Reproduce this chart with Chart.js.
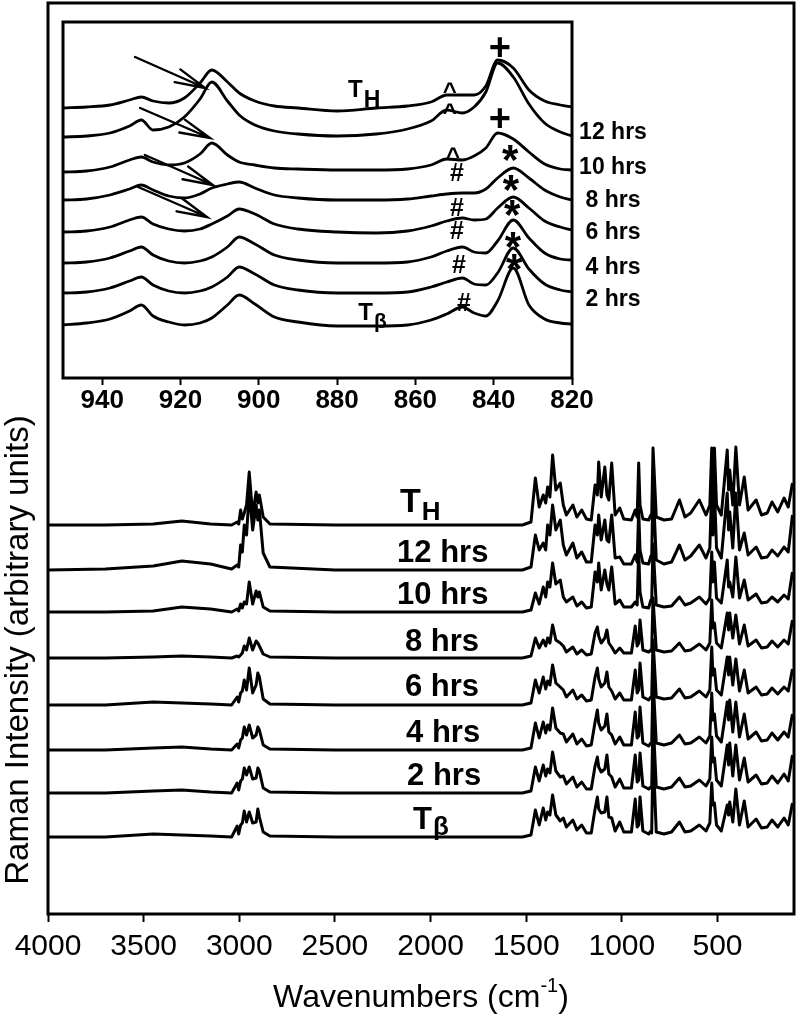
<!DOCTYPE html>
<html>
<head>
<meta charset="utf-8">
<title>Raman spectra</title>
<script src="https://cdn.jsdelivr.net/npm/chart.js@4.4.0/dist/chart.umd.min.js"></script>
<style>
  html, body { margin: 0; padding: 0; background: #fff; }
  #wrap { position: relative; width: 799px; height: 1014px; }
  #mainChart, #insetChart { position: absolute; left: 0; top: 0; }
</style>
</head>
<body>
<div id="wrap">
  <canvas id="mainChart" width="799" height="1014"></canvas>
  <canvas id="insetChart" width="799" height="430"></canvas>
</div>
<script>
// ---- données ----
const traceNames = ["TH", "12 hrs", "10 hrs", "8 hrs", "6 hrs", "4 hrs", "2 hrs", "Tβ"];

// spectre complet (cm-1)
const mainWavenumbers = [
  4000, 3700, 3450, 3300, 3150, 3040, 3011, 3003, 2993, 2984,
  2974, 2962, 2948, 2930, 2912, 2903, 2895, 2875, 2840, 2500,
  2000, 1520, 1475, 1452, 1432, 1411, 1398, 1388, 1376, 1362,
  1345, 1322, 1306, 1290, 1256, 1235, 1210, 1185, 1160, 1140,
  1128, 1121, 1108, 1089, 1078, 1068, 1053, 1035, 1011, 990,
  950, 930, 920, 912, 905, 890, 860, 848, 844, 837,
  820, 780, 740, 699, 670, 640, 595, 560, 540, 530,
  524, 516, 505, 480, 449, 442, 436, 420, 404, 385,
  360, 340, 298, 270, 240, 215, 185, 152, 130, 108
];
const mainTickValues = [4000, 3500, 3000, 2500, 2000, 1500, 1000, 500];
const mainOffsets = [389, 344, 302, 256, 209, 164, 121, 77];

const mainTH = [
  0, 0, 1, 4, 1, 0, 3, 1, 15, 6,
  12, 20, 53, 10, 33, 22, 30, 8, 1, 0,
  0, 0, 3, 47, 18, 30, 22, 38, 28, 70,
  35, 42, 20, 10, 20, 8, 15, 6, 5, 40,
  30, 63, 28, 58, 30, 25, 62, 10, 17, 6,
  5, 15, 8, 62, 20, 6, 5, 10, 8, 77,
  8, 5, 6, 25, 8, 12, 25, 10, 20, 77,
  30, 77, 20, 10, 75, 35, 55, 20, 78, 20,
  48, 15, 25, 10, 12, 23, 13, 27, 18, 42
];
const main12h = [
  0, 1, 4, 9, 6, 1, 5, 3, 25, 18,
  45, 35, 78, 40, 65, 50, 60, 17, 3, 0,
  0, 0, 3, 35, 20, 27, 20, 45, 35, 65,
  40, 50, 25, 15, 27, 12, 18, 8, 8, 45,
  35, 55, 30, 50, 30, 28, 55, 12, 13, 6,
  6, 15, 8, 60, 20, 7, 6, 14, 12, 85,
  10, 6, 8, 25, 10, 14, 25, 12, 22, 83,
  35, 80, 22, 12, 77, 40, 58, 22, 77, 20,
  37, 15, 23, 12, 13, 20, 14, 23, 18, 55
];
const main10h = [
  0, 0, 1, 5, 3, 0, 3, 1, 8, 4,
  10, 8, 30, 8, 21, 15, 20, 5, 1, 0,
  0, 0, 2, 19, 8, 25, 15, 30, 25, 49,
  28, 32, 15, 10, 15, 6, 10, 4, 5, 40,
  30, 49, 22, 42, 28, 22, 45, 8, 12, 5,
  5, 10, 7, 62, 20, 5, 4, 12, 10, 68,
  7, 5, 6, 15, 7, 9, 15, 8, 14, 60,
  30, 50, 14, 9, 52, 25, 30, 15, 55, 14,
  32, 12, 18, 9, 10, 15, 10, 17, 13, 40
];
const main8h = [
  0, 0, 1, 2, 1, 0, 2, 1, 3, 5,
  12, 8, 20, 8, 17, 15, 12, 4, 1, 0,
  0, 0, 2, 20, 10, 18, 12, 20, 15, 33,
  18, 15, 12, 6, 11, 4, 8, 3, 4, 25,
  31, 22, 15, 20, 28, 15, 11, 5, 10, 5,
  5, 32, 12, 15, 38, 8, 6, 8, 7, 60,
  8, 6, 7, 15, 7, 8, 14, 8, 15, 58,
  30, 35, 15, 10, 45, 28, 45, 20, 43, 14,
  33, 12, 18, 10, 11, 17, 11, 18, 14, 38
];
const main6h = [
  0, 0, 3, 2, 1, 0, 8, 3, 12, 14,
  25, 15, 37, 12, 20, 32, 28, 6, 1, 0,
  0, 0, 2, 25, 12, 28, 16, 24, 20, 40,
  22, 18, 15, 8, 15, 6, 10, 4, 5, 28,
  37, 26, 18, 22, 33, 18, 14, 6, 12, 5,
  5, 35, 12, 15, 42, 8, 5, 8, 7, 65,
  8, 6, 7, 16, 7, 8, 14, 8, 15, 58,
  30, 36, 15, 10, 48, 30, 48, 20, 46, 14,
  35, 12, 18, 10, 11, 17, 11, 18, 14, 36
];
const main4h = [
  0, 0, 2, 3, 1, 0, 6, 2, 10, 12,
  23, 15, 25, 12, 15, 23, 20, 5, 1, 0,
  0, 0, 2, 27, 12, 28, 17, 25, 20, 42,
  22, 17, 16, 8, 16, 6, 11, 4, 5, 28,
  40, 27, 20, 24, 36, 18, 15, 6, 13, 5,
  5, 38, 12, 14, 43, 7, 4, 7, 6, 72,
  7, 5, 7, 15, 6, 7, 13, 7, 14, 57,
  30, 36, 14, 8, 48, 30, 50, 18, 48, 13,
  36, 11, 18, 9, 10, 17, 10, 18, 13, 36
];
const main2h = [
  0, 0, 2, 3, 1, 0, 10, 3, 12, 14,
  25, 18, 26, 14, 15, 25, 22, 5, 1, 0,
  0, 0, 2, 26, 12, 28, 17, 24, 20, 41,
  22, 16, 17, 9, 16, 6, 11, 4, 4, 27,
  36, 26, 21, 24, 38, 19, 16, 6, 14, 5,
  5, 38, 11, 13, 40, 7, 4, 6, 5, 75,
  6, 4, 6, 15, 6, 7, 13, 7, 14, 56,
  31, 35, 13, 7, 48, 28, 50, 17, 48, 13,
  35, 11, 18, 9, 10, 17, 10, 19, 12, 38
];
const mainTbeta = [
  0, 0, 3, 2, 1, 0, 11, 3, 12, 14,
  26, 15, 25, 14, 15, 28, 20, 5, 1, 0,
  0, 0, 2, 27, 12, 29, 17, 25, 22, 42,
  22, 16, 19, 10, 17, 7, 12, 4, 4, 28,
  40, 28, 24, 25, 40, 20, 19, 6, 15, 5,
  5, 38, 10, 12, 40, 6, 3, 6, 4, 85,
  5, 3, 5, 15, 5, 6, 12, 6, 14, 54,
  32, 34, 12, 6, 32, 22, 35, 15, 48, 12,
  36, 10, 18, 9, 10, 17, 10, 19, 12, 34
];
const mainSeries = [mainTH, main12h, main10h, main8h, main6h, main4h, main2h, mainTbeta];

// encart 950-820 cm-1
const insetWavenumbers = [
  950, 944, 938, 933, 930, 927, 923, 919, 915, 912,
  908, 905, 901, 896, 890, 880, 870, 862, 856, 852,
  848, 845, 842, 839, 835, 831, 827, 823, 820
];
const insetTickValues = [940, 920, 900, 880, 860, 840, 820];
const insetOffsets = [270, 241, 206, 178, 146, 115, 85, 53];

const insetTH = [0, 1, 3, 8, 11, 7, 5, 10, 25, 38, 26, 15, 7, 2, 0, -3, 0, 2, 6, 13, 13, 13, 22, 48, 40, 18, 7, 3, 1];
const inset12h = [0, 1, 4, 11, 17, 7, 10, 20, 38, 55, 36, 22, 12, 6, 3, 1, 3, 8, 16, 27, 24, 30, 45, 74, 60, 33, 14, 5, 1];
const inset10h = [0, 1, 5, 12, 15, 10, 7, 9, 18, 29, 17, 10, 7, 4, 3, 2, 2, 3, 7, 13, 12, 16, 24, 39, 33, 20, 8, 3, 2];
const inset8h = [0, 1, 5, 11, 15, 10, 4, 2, 6, 12, 16, 18, 12, 5, 2, 0, 0, 1, 4, 6, 7, 7, 11, 22, 32, 22, 10, 3, 0];
const inset6h = [0, 1, 5, 12, 15, 8, 3, 1, 3, 8, 16, 23, 18, 8, 3, 0, -1, 1, 6, 11, 14, 12, 13, 24, 35, 24, 11, 5, 2];
const inset4h = [0, 1, 5, 12, 16, 8, 2, 0, 2, 6, 16, 26, 19, 8, 3, 0, 0, 1, 6, 12, 16, 11, 10, 22, 43, 25, 10, 4, 3];
const inset2h = [0, 1, 5, 12, 16, 8, 2, 0, 2, 6, 16, 26, 19, 8, 3, 0, 0, 1, 6, 11, 15, 9, 8, 20, 45, 24, 9, 3, 1];
const insetTbeta = [0, 2, 6, 14, 20, 9, 3, 0, 2, 7, 20, 30, 21, 8, 3, -1, -1, 0, 5, 11, 18, 12, 9, 24, 57, 20, 6, 2, 1];
const insetSeries = [insetTH, inset12h, inset10h, inset8h, inset6h, inset4h, inset2h, insetTbeta];

// annotations (coordonnées en unités des axes)
const mainLabelAt = [
  { wn: 2160, y: 414 }, { wn: 2175, y: 364 }, { wn: 2175, y: 322 }, { wn: 2134, y: 275 },
  { wn: 2134, y: 230 }, { wn: 2128, y: 184 }, { wn: 2123, y: 141 }, { wn: 2092, y: 96 }
];
const insetHrsLabelY = [248, 213, 180, 148, 113, 81]; // 12 hrs ... 2 hrs
const insetPlus = [{ wn: 838.4, y: 331 }, { wn: 838.4, y: 260 }];
const insetCaret = [{ wn: 851.2, y: 291 }, { wn: 851.2, y: 270 }, { wn: 850.4, y: 226 }];
const insetHash = [{ wn: 849.4, y: 206 }, { wn: 849.4, y: 171 }, { wn: 849.4, y: 148 }, { wn: 848.9, y: 114 }, { wn: 847.6, y: 76 }];
const insetStar = [{ wn: 835.8, y: 225 }, { wn: 835.6, y: 195 }, { wn: 835.3, y: 170 }, { wn: 835.1, y: 138 }, { wn: 834.8, y: 116 }];
const insetArrows = [
  { from: [931.6, 321], to: [913.7, 290] },
  { from: [930.3, 270], to: [912.5, 240] },
  { from: [929.1, 223], to: [911.7, 193] },
  { from: [930.8, 191], to: [913.2, 161] }
];

const FONT = "'Liberation Sans', Arial, sans-serif";

function drawCentered(ctx, str, cx, cy, font, align) {
  ctx.font = font;
  const m = ctx.measureText(str);
  ctx.textAlign = align || "center";
  ctx.textBaseline = "alphabetic";
  ctx.fillText(str, cx, cy + (m.actualBoundingBoxAscent - m.actualBoundingBoxDescent) / 2);
  return m.width;
}

// T avec indice (TH, Tβ)
function drawSubscripted(ctx, main, sub, x, cy, size, subSize, drop) {
  const w = drawCentered(ctx, main, x, cy, "bold " + size + "px " + FONT, "left");
  drawCentered(ctx, sub, x + w + 1, cy + drop, "bold " + subSize + "px " + FONT, "left");
}

function buildData(wavenumbers, values, offset) {
  return wavenumbers.map((wn, i) => ({ x: wn, y: offset + values[i] }));
}

const whiteBg = {
  id: "whiteBg",
  beforeDraw(chart) {
    const ctx = chart.ctx;
    ctx.save();
    ctx.fillStyle = "#fff";
    ctx.fillRect(0, 0, chart.width, chart.height);
    ctx.restore();
  }
};

const mainDecor = {
  id: "mainDecor",
  afterDraw(chart) {
    const { ctx, chartArea: a, scales } = chart;
    ctx.save();
    ctx.strokeStyle = "#000";
    ctx.lineWidth = 3;
    ctx.strokeRect(a.left, a.top, a.right - a.left, a.bottom - a.top);
    ctx.fillStyle = "#000";

    // étiquettes des courbes
    mainLabelAt.forEach((p, i) => {
      const px = scales.x.getPixelForValue(p.wn);
      const py = scales.y.getPixelForValue(p.y);
      if (i === 0) drawSubscripted(ctx, "T", "H", px, py, 34, 26, 11);
      else if (i === 7) drawSubscripted(ctx, "T", "β", px, py, 31, 26, 10);
      else drawCentered(ctx, traceNames[i], px, py, "bold 31px " + FONT, "left");
    });

    // titre de l'axe y
    ctx.save();
    ctx.translate(19, 650);
    ctx.rotate(-Math.PI / 2);
    ctx.font = "33px " + FONT;
    ctx.textAlign = "center";
    ctx.textBaseline = "middle";
    ctx.fillText("Raman Intensity (arbitrary units)", 0, 0);
    ctx.restore();

    // titre de l'axe x avec exposant
    ctx.textBaseline = "alphabetic";
    ctx.textAlign = "left";
    ctx.font = "32px " + FONT;
    const w1 = ctx.measureText("Wavenumbers (cm").width;
    const w3 = ctx.measureText(")").width;
    ctx.font = "20px " + FONT;
    const w2 = ctx.measureText("-1").width;
    let x0 = 421 - (w1 + w2 + w3) / 2;
    const base = 1007;
    ctx.font = "32px " + FONT;
    ctx.fillText("Wavenumbers (cm", x0, base);
    ctx.font = "20px " + FONT;
    ctx.fillText("-1", x0 + w1, base - 15);
    ctx.font = "32px " + FONT;
    ctx.fillText(")", x0 + w1 + w2, base);
    ctx.restore();
  }
};

const insetDecor = {
  id: "insetDecor",
  afterDraw(chart) {
    const { ctx, chartArea: a, scales } = chart;
    const X = v => scales.x.getPixelForValue(v);
    const Y = v => scales.y.getPixelForValue(v);
    ctx.save();
    ctx.strokeStyle = "#000";
    ctx.fillStyle = "#000";
    ctx.lineWidth = 3;
    ctx.strokeRect(a.left, a.top, a.right - a.left, a.bottom - a.top);

    // étiquettes à droite
    insetHrsLabelY.forEach((v, i) => {
      drawCentered(ctx, traceNames[i + 1], a.right + 41, Y(v), "bold 23px " + FONT, "center");
    });

    drawSubscripted(ctx, "T", "H", X(877.2), Y(290), 24, 23, 10);
    drawSubscripted(ctx, "T", "β", X(874.6), Y(67), 24, 21, 11);

    insetPlus.forEach(p => drawCentered(ctx, "+", X(p.wn), Y(p.y), "bold 38px " + FONT));
    insetCaret.forEach(p => drawCentered(ctx, "^", X(p.wn), Y(p.y), "bold 24px " + FONT));
    insetHash.forEach(p => drawCentered(ctx, "#", X(p.wn), Y(p.y), "bold 25px " + FONT));
    insetStar.forEach(p => drawCentered(ctx, "*", X(p.wn), Y(p.y), "bold 42px " + FONT));

    // flèches
    ctx.lineWidth = 2.4;
    ctx.lineCap = "round";
    insetArrows.forEach(ar => {
      const x1 = X(ar.from[0]), y1 = Y(ar.from[1]);
      const x2 = X(ar.to[0]), y2 = Y(ar.to[1]);
      const ang = Math.atan2(y2 - y1, x2 - x1);
      const len = 31, spread = 13 * Math.PI / 180;
      ctx.beginPath();
      ctx.moveTo(x1, y1);
      ctx.lineTo(x2, y2);
      ctx.moveTo(x2 - len * Math.cos(ang - spread), y2 - len * Math.sin(ang - spread));
      ctx.lineTo(x2, y2);
      ctx.lineTo(x2 - len * Math.cos(ang + spread), y2 - len * Math.sin(ang + spread));
      ctx.stroke();
    });
    ctx.restore();
  }
};

document.addEventListener("DOMContentLoaded", () => {
  new Chart(document.getElementById("mainChart"), {
    type: "line",
    data: {
      datasets: mainSeries.map((vals, i) => ({
        label: traceNames[i],
        data: buildData(mainWavenumbers, vals, mainOffsets[i]),
        borderColor: "#000",
        borderWidth: 3,
        borderJoinStyle: "round",
        pointRadius: 0,
        tension: 0,
        fill: false
      }))
    },
    options: {
      responsive: false,
      animation: false,
      devicePixelRatio: 1,
      layout: { padding: { top: 3, right: 5, left: 0, bottom: 0 } },
      plugins: { legend: { display: false }, tooltip: { enabled: false } },
      scales: {
        x: {
          type: "linear",
          reverse: true,
          min: 100,
          max: 4000,
          afterBuildTicks: s => { s.ticks = mainTickValues.map(v => ({ value: v })); },
          afterFit: s => { s.height = 100; },
          ticks: {
            font: { family: FONT, size: 30 },
            color: "#000",
            padding: 7,
            maxRotation: 0,
            autoSkip: false,
            callback: v => String(v)
          },
          grid: { display: true, drawOnChartArea: false, drawTicks: true, tickLength: 8, tickWidth: 2, tickColor: "#000" },
          border: { display: false }
        },
        y: {
          min: 0,
          max: 911,
          afterFit: s => { s.width = 48; },
          ticks: { display: false },
          grid: { display: false },
          border: { display: false }
        }
      }
    },
    plugins: [whiteBg, mainDecor]
  });

  new Chart(document.getElementById("insetChart"), {
    type: "line",
    data: {
      datasets: insetSeries.map((vals, i) => ({
        label: traceNames[i],
        data: buildData(insetWavenumbers, vals, insetOffsets[i]),
        borderColor: "#000",
        borderWidth: 2.8,
        pointRadius: 0,
        cubicInterpolationMode: "monotone",
        fill: false
      }))
    },
    options: {
      responsive: false,
      animation: false,
      devicePixelRatio: 1,
      layout: { padding: { top: 22, right: 227, left: 0, bottom: 0 } },
      plugins: { legend: { display: false }, tooltip: { enabled: false } },
      scales: {
        x: {
          type: "linear",
          reverse: true,
          min: 820,
          max: 950,
          afterBuildTicks: s => { s.ticks = insetTickValues.map(v => ({ value: v })); },
          afterFit: s => { s.height = 52; },
          ticks: {
            font: { family: FONT, size: 26, weight: "bold" },
            color: "#000",
            padding: 0,
            maxRotation: 0,
            autoSkip: false,
            callback: v => String(v)
          },
          grid: { display: true, drawOnChartArea: false, drawTicks: true, tickLength: 7, tickWidth: 2, tickColor: "#000" },
          border: { display: false }
        },
        y: {
          min: 0,
          max: 356,
          afterFit: s => { s.width = 63; },
          ticks: { display: false },
          grid: { display: false },
          border: { display: false }
        }
      }
    },
    plugins: [insetDecor]
  });
});
</script>
</body>
</html>
